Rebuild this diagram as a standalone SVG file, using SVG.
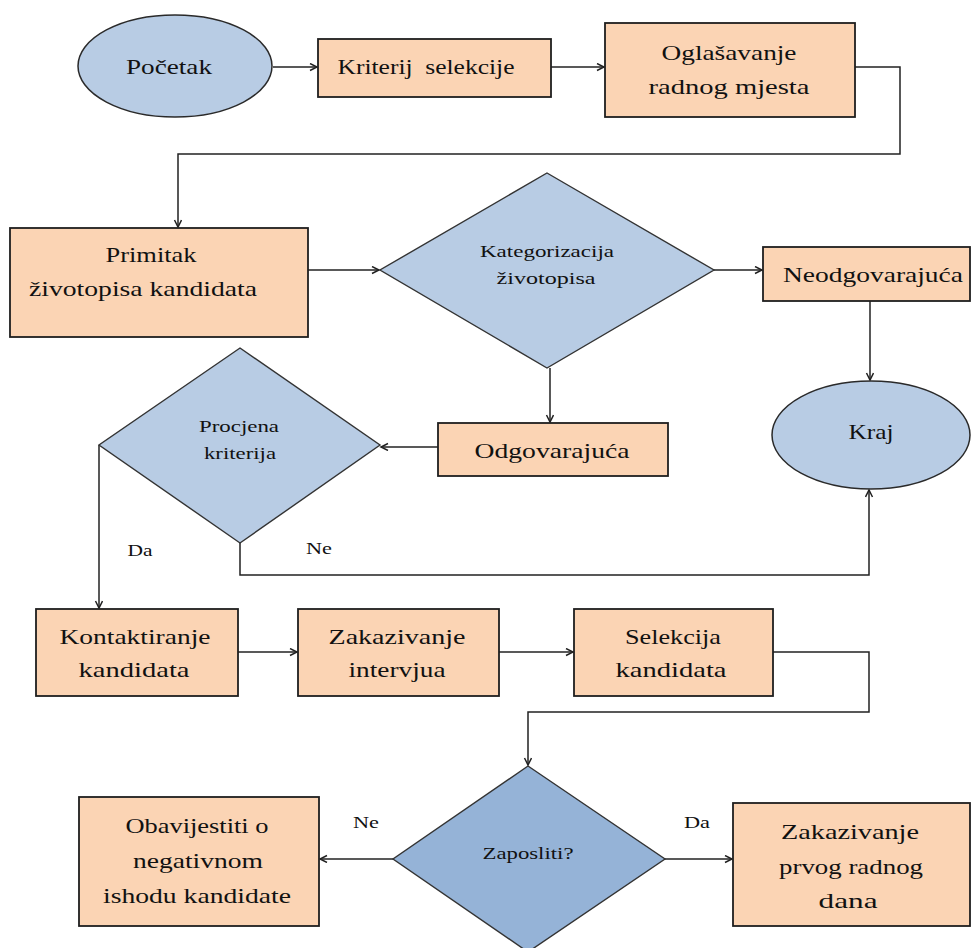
<svg xmlns="http://www.w3.org/2000/svg" width="972" height="948" viewBox="0 0 972 948">
<style>
.box{fill:#fbd4b4;stroke:#1e1e1e;stroke-width:1.8}
.term{fill:#b8cce4;stroke:#2a2a2a;stroke-width:1.5}
.dec{fill:#b8cce4;stroke:#333;stroke-width:1.4}
.dec2{fill:#95b3d7;stroke:#333;stroke-width:1.4}
.t{font-family:'Liberation Serif','Times New Roman',serif;font-size:22px;fill:#111;text-anchor:middle}
.s{font-family:'Liberation Serif','Times New Roman',serif;font-size:17px;fill:#111;text-anchor:middle}
.conn{fill:none;stroke:#222;stroke-width:1.5}
</style>
<defs>
<marker id="arr" markerUnits="userSpaceOnUse" markerWidth="10" markerHeight="10" refX="8" refY="4" orient="auto">
<path d="M1,0.5 L8,4 L1,7.5" fill="none" stroke="#222" stroke-width="1.5"/>
</marker>
</defs>
<rect width="972" height="948" fill="#fff"/>
<g id="connectors">
<path class="conn" marker-end="url(#arr)" d="M273,67 H317"/>
<path class="conn" marker-end="url(#arr)" d="M551,67 H604"/>
<path class="conn" marker-end="url(#arr)" d="M855,67 H900 V154 H178 V227"/>
<path class="conn" marker-end="url(#arr)" d="M308,270 H379"/>
<path class="conn" marker-end="url(#arr)" d="M714,270 H762"/>
<path class="conn" marker-end="url(#arr)" d="M870,301 V380"/>
<path class="conn" marker-end="url(#arr)" d="M550,368 V422"/>
<path class="conn" marker-end="url(#arr)" d="M438,447 H381"/>
<path class="conn" marker-end="url(#arr)" d="M99,445 V608"/>
<path class="conn" marker-end="url(#arr)" d="M240,543 V575 H869 V490"/>
<path class="conn" marker-end="url(#arr)" d="M238,652 H297"/>
<path class="conn" marker-end="url(#arr)" d="M499,652 H573"/>
<path class="conn" marker-end="url(#arr)" d="M773,652 H869 V712 H528 V765"/>
<path class="conn" marker-end="url(#arr)" d="M393,859 H320"/>
<path class="conn" marker-end="url(#arr)" d="M665,859 H732"/>
<text class="s" x="140" y="556" textLength="25" lengthAdjust="spacingAndGlyphs">Da</text>
<text class="s" x="319" y="554" textLength="26" lengthAdjust="spacingAndGlyphs">Ne</text>
<text class="s" x="366" y="828" textLength="26" lengthAdjust="spacingAndGlyphs">Ne</text>
<text class="s" x="697" y="828" textLength="26" lengthAdjust="spacingAndGlyphs">Da</text>
</g>
<g id="pocetak">
<ellipse class="term" cx="175" cy="66" rx="97" ry="51"/>
<text class="t" x="169" y="74" textLength="86" lengthAdjust="spacingAndGlyphs">Početak</text>
</g>
<g id="kriterij">
<rect class="box" x="318" y="39" width="233" height="58"/>
<text class="t" x="426" y="74" textLength="177" lengthAdjust="spacingAndGlyphs" xml:space="preserve">Kriterij  selekcije</text>
</g>
<g id="oglasavanje">
<rect class="box" x="605" y="23" width="250" height="94"/>
<text class="t" x="729" y="60" textLength="135" lengthAdjust="spacingAndGlyphs">Oglašavanje</text>
<text class="t" x="729" y="94" textLength="161" lengthAdjust="spacingAndGlyphs">radnog mjesta</text>
</g>
<g id="primitak">
<rect class="box" x="10" y="228" width="298" height="109"/>
<text class="t" x="151" y="262" textLength="91" lengthAdjust="spacingAndGlyphs">Primitak</text>
<text class="t" x="143" y="296" textLength="228" lengthAdjust="spacingAndGlyphs">životopisa kandidata</text>
</g>
<g id="kategorizacija">
<polygon class="dec" points="547,173 714,270 547,368 380,270"/>
<text class="s" x="547" y="257" textLength="134" lengthAdjust="spacingAndGlyphs">Kategorizacija</text>
<text class="s" x="546" y="284" textLength="99" lengthAdjust="spacingAndGlyphs">životopisa</text>
</g>
<g id="neodgovarajuca">
<rect class="box" x="763" y="247" width="207" height="54"/>
<text class="t" x="873" y="282" textLength="180" lengthAdjust="spacingAndGlyphs">Neodgovarajuća</text>
</g>
<g id="kraj">
<ellipse class="term" cx="871" cy="435" rx="99" ry="54"/>
<text class="t" x="871" y="439" textLength="45" lengthAdjust="spacingAndGlyphs">Kraj</text>
</g>
<g id="odgovarajuca">
<rect class="box" x="438" y="423" width="230" height="53"/>
<text class="t" x="552" y="458" textLength="155" lengthAdjust="spacingAndGlyphs">Odgovarajuća</text>
</g>
<g id="procjena">
<polygon class="dec" points="240,348 380,445 240,543 99,445"/>
<text class="s" x="239" y="432" textLength="80" lengthAdjust="spacingAndGlyphs">Procjena</text>
<text class="s" x="240" y="459" textLength="72" lengthAdjust="spacingAndGlyphs">kriterija</text>
</g>
<g id="kontaktiranje">
<rect class="box" x="36" y="609" width="202" height="87"/>
<text class="t" x="135" y="644" textLength="151" lengthAdjust="spacingAndGlyphs">Kontaktiranje</text>
<text class="t" x="134" y="677" textLength="111" lengthAdjust="spacingAndGlyphs">kandidata</text>
</g>
<g id="zakazivanje-intervjua">
<rect class="box" x="298" y="609" width="201" height="87"/>
<text class="t" x="397" y="644" textLength="137" lengthAdjust="spacingAndGlyphs">Zakazivanje</text>
<text class="t" x="397" y="677" textLength="97" lengthAdjust="spacingAndGlyphs">intervjua</text>
</g>
<g id="selekcija">
<rect class="box" x="574" y="609" width="199" height="87"/>
<text class="t" x="673" y="644" textLength="96" lengthAdjust="spacingAndGlyphs">Selekcija</text>
<text class="t" x="671" y="677" textLength="111" lengthAdjust="spacingAndGlyphs">kandidata</text>
</g>
<g id="zaposliti">
<polygon class="dec2" points="528,766 665,859 528,952 393,859"/>
<text class="s" x="528" y="859" textLength="91" lengthAdjust="spacingAndGlyphs">Zaposliti?</text>
</g>
<g id="obavijestiti">
<rect class="box" x="79" y="797" width="240" height="129"/>
<text class="t" x="197" y="833" textLength="143" lengthAdjust="spacingAndGlyphs">Obavijestiti o</text>
<text class="t" x="198" y="868" textLength="130" lengthAdjust="spacingAndGlyphs">negativnom</text>
<text class="t" x="197" y="903" textLength="188" lengthAdjust="spacingAndGlyphs">ishodu kandidate</text>
</g>
<g id="zakazivanje-prvog">
<rect class="box" x="733" y="803" width="237" height="123"/>
<text class="t" x="850" y="839" textLength="138" lengthAdjust="spacingAndGlyphs">Zakazivanje</text>
<text class="t" x="851" y="874" textLength="144" lengthAdjust="spacingAndGlyphs">prvog radnog</text>
<text class="t" x="848" y="908" textLength="59" lengthAdjust="spacingAndGlyphs">dana</text>
</g>
</svg>
